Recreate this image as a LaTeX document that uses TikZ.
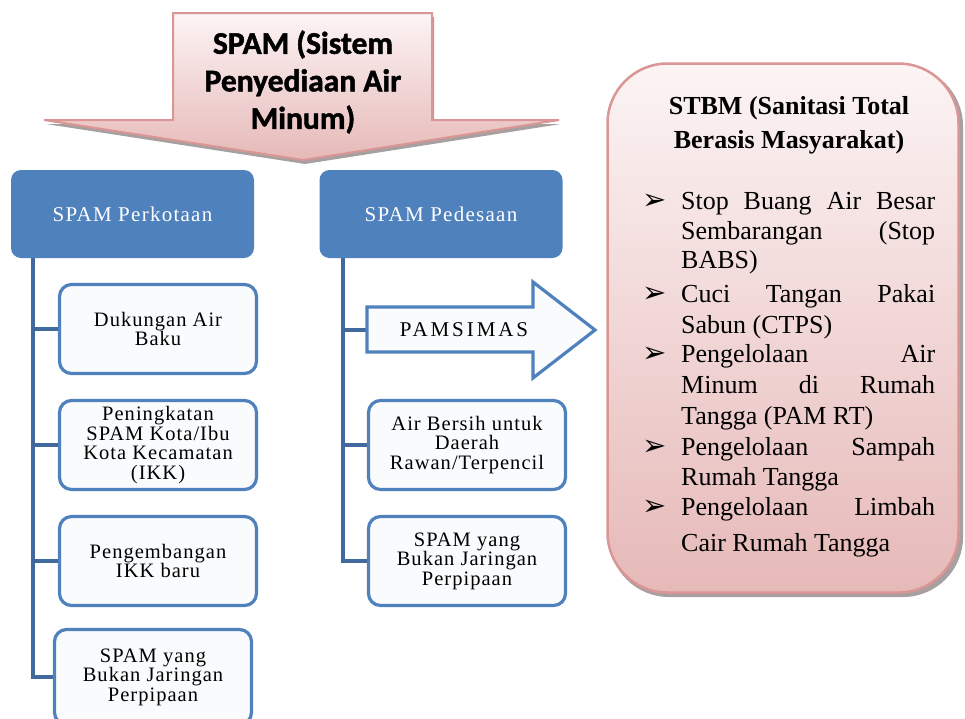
\documentclass[tikz,border=0pt]{standalone}
\usepackage{fontspec}
\setmainfont{Liberation Serif}
\newfontfamily\spamfont[BoldFeatures={FakeBold=1.5}]{Carlito}
\newfontfamily\boxfont[LetterSpace=5]{Liberation Serif}
\newfontfamily\headfont[LetterSpace=6]{Liberation Serif}
\newfontfamily\pamfont[LetterSpace=14]{Liberation Serif}
\newfontfamily\symfont{DejaVu Sans}
\definecolor{headblue}{HTML}{4F81BD}
\definecolor{linkblue}{HTML}{41699D}
\definecolor{pinkborder}{HTML}{D99694}
\definecolor{pinktop}{HTML}{FCF4F4}
\definecolor{pinkbot}{HTML}{E6B9B8}
\definecolor{boxfill}{HTML}{F9FBFD}
\definecolor{shadowgray}{HTML}{A8A0A0}
\pgfdeclarelayer{bg}
\pgfsetlayers{bg,main}
\tikzset{
  headbox/.style={rounded corners=10pt, fill=headblue, minimum width=243pt,
    minimum height=88pt, text=white, inner sep=0pt,
    font=\headfont\fontsize{21}{22}\selectfont},
  childbox/.style={draw=headblue, line width=3.2pt, rounded corners=12pt,
    fill=boxfill, minimum width=197pt, minimum height=89pt, align=center,
    inner sep=2pt, font=\boxfont\fontsize{20.5}{19.5}\selectfont},
  trunk/.style={draw=linkblue, line width=4pt},
  bodyline/.style={anchor=base west, inner sep=0pt,
    font=\fontsize{26}{28}\selectfont},
  bulletmark/.style={anchor=base west, inner sep=0pt,
    font=\symfont\fontsize{29}{29}\selectfont},
  stbmtitle/.style={anchor=base, inner sep=0pt,
    font=\bfseries\fontsize{26}{34}\selectfont}
}
\newcommand{\jline}[1]{\makebox[254pt][s]{#1}}
\begin{document}
\begin{tikzpicture}[x=1pt,y=-1pt]
\useasboundingbox (0,0) rectangle (965,718);
\clip (0,0) rectangle (965,718);

% top arrow (SPAM)
\begin{scope}[xshift=2pt,yshift=-4pt]
\fill[shadowgray] (173,13) -- (432,13) -- (432,120) -- (559,120) -- (303,160) -- (44,120) -- (173,120) -- cycle;
\end{scope}
\draw[pinkborder, line width=2pt, top color=pinktop, bottom color=pinkbot]
  (173,13) -- (432,13) -- (432,120) -- (559,120) -- (303,160) -- (44,120) -- (173,120) -- cycle;
\node[font=\spamfont\bfseries\fontsize{31.5}{37.5}\selectfont, align=center, inner sep=0pt]
  (spam) at (303,82) {SPAM (Sistem\\Penyediaan Air\\Minum)};

% STBM box
\fill[shadowgray, rounded corners=60pt] (609,66) rectangle (963,597);
\node[draw=pinkborder, line width=2.5pt, rounded corners=60pt,
  top color=pinktop, bottom color=pinkbot, minimum width=351pt, minimum height=529pt]
  (stbm) at (783,328) {};
\node[stbmtitle] (stt1) at (789,114) {STBM (Sanitasi Total};
\node[stbmtitle] (stt2) at (789,148) {Berasis Masyarakat)};

\node[bulletmark] (b1) at (642,209) {➢};
\node[bulletmark] (b2) at (642,302) {➢};
\node[bulletmark] (b3) at (642,362) {➢};
\node[bulletmark] (b4) at (642,455) {➢};
\node[bulletmark] (b5) at (642,515) {➢};

\node[bodyline] (l1) at (681,209) {\jline{Stop Buang Air Besar}};
\node[bodyline] (l2) at (681,239) {\jline{Sembarangan (Stop}};
\node[bodyline] (l3) at (681,268) {BABS)};
\node[bodyline] (l4) at (681,302) {\jline{Cuci Tangan Pakai}};
\node[bodyline] (l5) at (681,333) {Sabun (CTPS)};
\node[bodyline] (l6) at (681,362) {\jline{Pengelolaan Air}};
\node[bodyline] (l7) at (681,393) {\jline{Minum di Rumah}};
\node[bodyline] (l8) at (681,424) {Tangga (PAM RT)};
\node[bodyline] (l9) at (681,455) {\jline{Pengelolaan Sampah}};
\node[bodyline] (l10) at (681,485) {Rumah Tangga};
\node[bodyline] (l11) at (681,515) {\jline{Pengelolaan Limbah}};
\node[bodyline] (l12) at (681,551) {Cair Rumah Tangga};

% header boxes
\node[headbox] (perk) at (132.5,214) {SPAM Perkotaan};
\node[headbox] (pede) at (441,214) {SPAM Pedesaan};

% trunk coordinates
\coordinate (lt) at (33,258);
\coordinate (rt) at (343,258);
\coordinate (pamsL) at (367,330);

% children
\node[childbox] (c1) at (158,329) {Dukungan Air\\Baku};
\node[childbox] (c2) at (158,445) {Peningkatan\\SPAM Kota/Ibu\\Kota Kecamatan\\(IKK)};
\node[childbox] (c3) at (158,561) {Pengembangan\\IKK baru};
\node[childbox, minimum height=95pt] (c4) at (153,677) {SPAM yang\\Bukan Jaringan\\Perpipaan};
\node[childbox] (r2) at (467,445) {Air Bersih untuk\\Daerah\\Rawan/Terpencil};
\node[childbox] (r3) at (467,561) {SPAM yang\\Bukan Jaringan\\Perpipaan};

% PAMSIMAS arrow
\draw[headblue, line width=3.2pt, fill=boxfill, line join=miter]
  (pamsL) -- (367,307) -- (533,307) -- (533,282) -- (595,330) -- (533,378) -- (533,352) -- (367,352) -- cycle;
\node[font=\pamfont\fontsize{21}{21}\selectfont, inner sep=0pt] (pams) at (464,330) {PAMSIMAS};

% connectors
\begin{pgfonlayer}{bg}
\draw[trunk] (lt) |- (c1.west);
\draw[trunk] (lt) |- (c2.west);
\draw[trunk] (lt) |- (c3.west);
\draw[trunk] (lt) |- (c4.west);
\draw[trunk] (rt) |- (pamsL);
\draw[trunk] (rt) |- (r2.west);
\draw[trunk] (rt) |- (r3.west);
\end{pgfonlayer}
\end{tikzpicture}
\end{document}
